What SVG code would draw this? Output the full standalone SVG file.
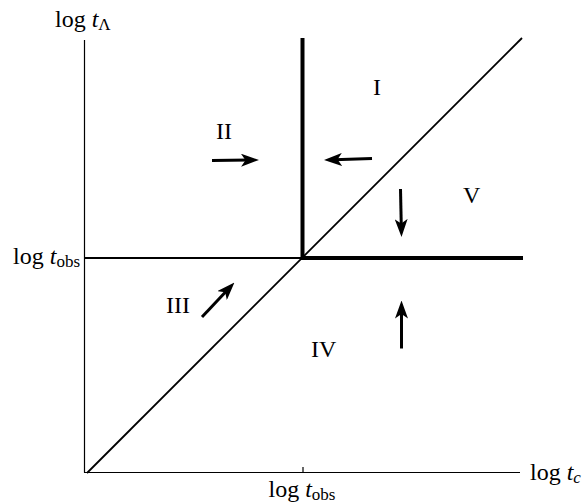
<svg xmlns="http://www.w3.org/2000/svg" width="587" height="504" viewBox="0 0 587 504">
<style>
.t{font-family:"Liberation Serif","Times New Roman",serif;font-size:24px;fill:#000}
.s{font-size:17px}
.i{font-style:italic}
.axis{stroke:#000;stroke-width:1.2;fill:none}
.thin{stroke:#000;stroke-width:1.8;fill:none}
.thick{stroke:#000;stroke-width:4;fill:none}
.arr{stroke:#000;stroke-width:3;fill:none;marker-end:url(#ah)}
</style>
<defs>
<marker id="ah" markerUnits="userSpaceOnUse" viewBox="0 0 18 13" refX="8" refY="6.5" markerWidth="18" markerHeight="13" orient="auto">
<path d="M0,0 L18,6.5 L0,13 L4.5,6.5 Z" fill="#000"/>
</marker>
</defs>
<rect width="587" height="504" fill="#fff"/>
<g id="axes">
<line class="axis" x1="84.5" y1="40" x2="84.5" y2="472.5"/>
<line class="axis" x1="84" y1="472.5" x2="520" y2="472.5"/>
<line class="axis" x1="303" y1="467" x2="303" y2="472.5"/>
</g>
<g id="boundaries">
<line class="thin" x1="84" y1="258" x2="302" y2="258"/>
<line class="thin" x1="87" y1="473" x2="522" y2="38"/>
<line class="thick" x1="302.5" y1="38" x2="302.5" y2="258"/>
<line class="thick" x1="301" y1="258" x2="523" y2="258"/>
</g>
<g id="connectors">
<line class="arr" x1="212" y1="160.5" x2="249" y2="160.1"/>
<line class="arr" x1="372" y1="158.5" x2="334" y2="159.7"/>
<line class="arr" x1="400.5" y1="189" x2="401.3" y2="227"/>
<line class="arr" x1="202" y1="317" x2="227.6" y2="289.8"/>
<line class="arr" x1="401.5" y1="348.5" x2="401.5" y2="310.5"/>
</g>
<g id="region-I"><text class="t" x="373" y="95">I</text></g>
<g id="region-II"><text class="t" x="216" y="139">II</text></g>
<g id="region-III"><text class="t" x="166" y="313">III</text></g>
<g id="region-IV"><text class="t" x="311" y="357">IV</text></g>
<g id="region-V"><text class="t" x="463" y="203">V</text></g>
<g id="labels">
<text class="t" x="55" y="27">log <tspan class="i">t</tspan><tspan class="s" dy="3">Λ</tspan></text>
<text class="t" x="80" y="264" text-anchor="end">log <tspan class="i">t</tspan><tspan class="s" dy="3">obs</tspan></text>
<text class="t" x="302" y="497" text-anchor="middle">log <tspan class="i">t</tspan><tspan class="s" dy="3">obs</tspan></text>
<text class="t" x="530" y="480">log <tspan class="i">t</tspan><tspan class="s i" dy="3">c</tspan></text>
</g>
</svg>
